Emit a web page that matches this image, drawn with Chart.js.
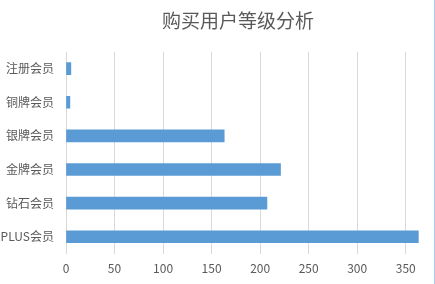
<!DOCTYPE html>
<html>
  <head>
    <title>购买用户等级分析</title>
    <script src="https://cdn.jsdelivr.net/npm/chart.js"></script>
    <style>
      body {
        margin: 0;
        background: #fff;
      }
      .chart-container {
        width: 434px;
        height: 284px;
        border-right: 1px solid #a8c8ec;
      }
    </style>
  </head>
  <body>
    <div class="chart-container">
      <canvas id="graph"></canvas>
    </div>
    <script>
      const chartTitle = "购买用户等级分析";
      const levels = ["注册会员", "铜牌会员", "银牌会员", "金牌会员", "钻石会员", "PLUS会员"];
      const buyers = [5, 4, 163, 221, 207, 363];
      const axisMax = 375;
      const axisStep = 50;

      const fontFamily = "'Noto Sans CJK SC', 'Noto Sans', sans-serif";

      // title sits a little left of the plot centre in the original
      const nudgeTitle = {
        id: "nudgeTitle",
        afterLayout(chart) {
          if (chart.titleBlock) chart.titleBlock.right -= 20;
        },
      };

      var ctx = document.getElementById("graph").getContext("2d");
      var graph = new Chart(ctx, {
        type: "bar",
        data: {
          labels: levels,
          datasets: [
            {
              label: chartTitle,
              data: buyers,
              backgroundColor: "#5b9bd5",
              borderWidth: 0,
              categoryPercentage: 1,
              barThickness: 12,
            },
          ],
        },
        plugins: [nudgeTitle],
        options: {
          indexAxis: "y",
          responsive: true,
          maintainAspectRatio: false,
          animation: false,
          layout: {
            padding: { left: 0, right: 4, top: 0, bottom: 0 },
          },
          plugins: {
            legend: { display: false },
            tooltip: { enabled: false },
            title: {
              display: true,
              text: chartTitle,
              fullSize: false,
              color: "#595959",
              font: { family: fontFamily, size: 19, weight: "normal" },
              padding: { top: 9, bottom: 20 },
            },
          },
          scales: {
            x: {
              min: 0,
              max: axisMax,
              border: { display: false },
              grid: {
                color: "#d9d9d9",
                lineWidth: 1,
                drawTicks: false,
              },
              ticks: {
                stepSize: axisStep,
                includeBounds: false,
                padding: 8,
                color: "#595959",
                font: { family: fontFamily, size: 12 },
              },
            },
            y: {
              border: { display: false },
              grid: { display: false, drawTicks: false },
              afterFit: function (scale) {
                scale.width = 66;
              },
              ticks: {
                padding: 12,
                color: "#595959",
                font: { family: fontFamily, size: 12 },
              },
            },
          },
        },
      });
    </script>
  </body>
</html>
